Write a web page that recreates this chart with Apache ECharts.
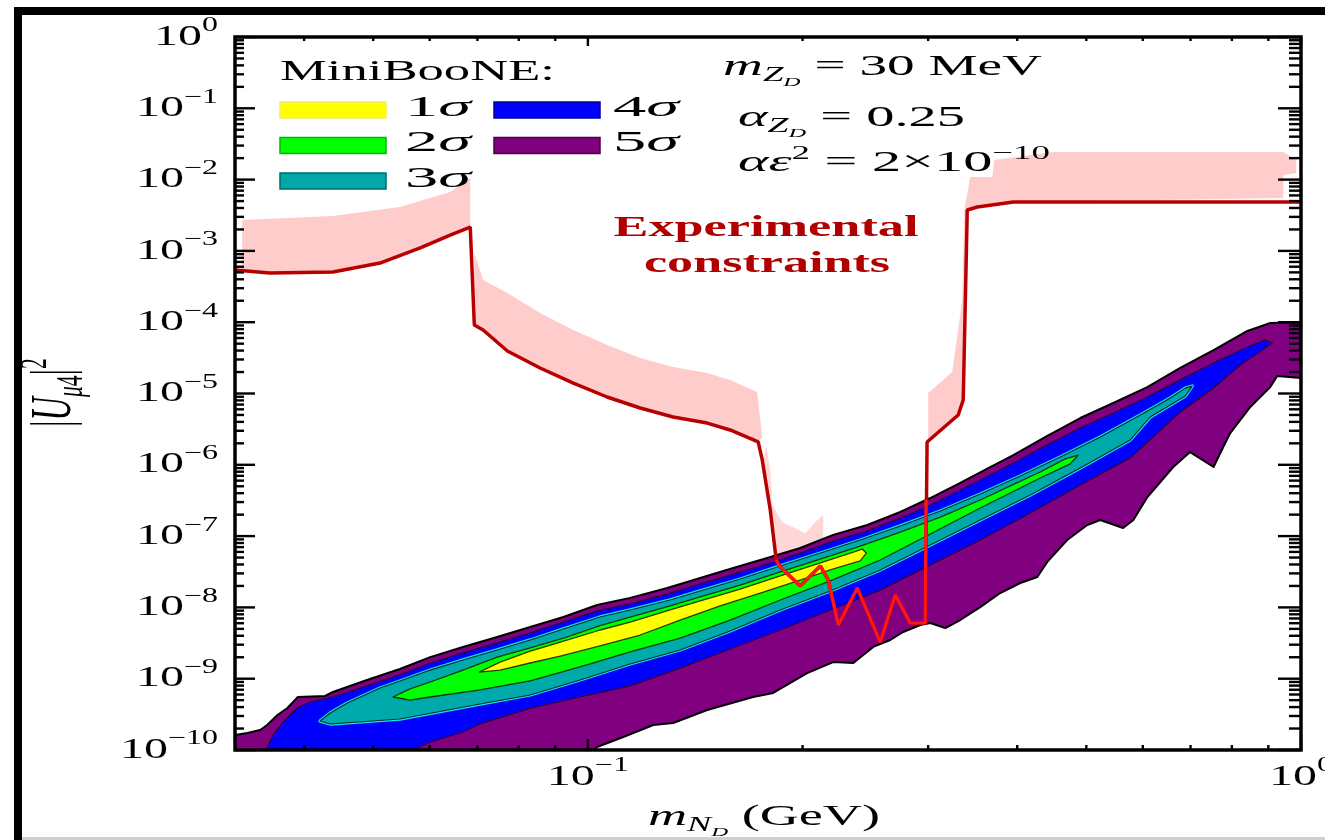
<!DOCTYPE html>
<html>
<head>
<meta charset="utf-8">
<script src="https://cdn.jsdelivr.net/npm/echarts@6/dist/echarts.min.js"></script>
<style>
html,body{margin:0;padding:0;background:#fff;}
#chart{width:1325px;height:840px;}
</style>
</head>
<body>
<div id="chart"></div>
<script>
// Axis ranges: heavy neutral mass (GeV) vs mixing |U_mu4|^2
const X_MIN = 0.032, X_MAX = 1;
const Y_MIN = 1e-10, Y_MAX = 1;

// Tick values
const xMajorTicks = [0.1, 1];
const xMinorTicks = [0.04, 0.05, 0.06, 0.07, 0.08, 0.09, 0.2, 0.3, 0.4, 0.5, 0.6, 0.7, 0.8, 0.9];
const yMajorTicks = [1e-10, 1e-9, 1e-8, 1e-7, 1e-6, 1e-5, 1e-4, 1e-3, 1e-2, 1e-1, 1];
const yMinorMultipliers = [2, 3, 4, 5, 6, 7, 8, 9];

// MiniBooNE preferred regions, [mass GeV, |U|^2] outlines
const region5sigma = [[0.0320,1.62e-10],[0.0333,1.73e-10],[0.0347,1.91e-10],[0.0355,2.24e-10],[0.0367,3.10e-10],[0.0379,3.88e-10],[0.0392,5.54e-10],[0.0428,5.72e-10],[0.0439,6.52e-10],[0.0490,9.59e-10],[0.0545,1.37e-9],[0.0601,2.01e-9],[0.0668,2.79e-9],[0.0746,3.85e-9],[0.0830,5.31e-9],[0.0924,7.33e-9],[0.1030,1.08e-8],[0.1146,1.36e-8],[0.1292,1.87e-8],[0.1437,2.58e-8],[0.1599,3.57e-8],[0.1784,4.93e-8],[0.1985,6.81e-8],[0.2208,1.04e-7],[0.2465,1.43e-7],[0.2742,2.18e-7],[0.3021,3.42e-7],[0.3328,5.56e-7],[0.3666,9.31e-7],[0.3950,1.37e-6],[0.4408,2.54e-6],[0.4903,4.53e-6],[0.5455,7.36e-6],[0.6087,1.23e-5],[0.6771,2.28e-5],[0.754,4.07e-5],[0.841,7.53e-5],[0.9056,9.75e-5],[1.0,1.0e-4],
  [1.0,1.65e-5],[0.926,1.76e-5],[0.9056,1.23e-5],[0.849,6.47e-6],[0.7958,2.79e-6],[0.778,1.78e-6],[0.754,9.31e-7],[0.699,1.51e-6],[0.662,9.31e-7],[0.609,3.53e-7],[0.582,1.68e-7],[0.563,1.30e-7],[0.523,1.68e-7],[0.5015,1.43e-7],[0.470,8.81e-8],[0.4408,4.34e-8],[0.4268,2.67e-8],[0.404,2.20e-8],[0.3786,1.59e-8],[0.3550,1.01e-8],[0.3328,6.65e-9],[0.3171,5.14e-9],[0.3021,6.04e-9],[0.2925,5.66e-9],[0.2768,4.52e-9],[0.2655,3.49e-9],[0.2513,2.79e-9],[0.2356,1.66e-9],[0.2208,1.71e-9],[0.2030,1.20e-9],[0.1819,6.31e-10],[0.1705,5.54e-10],[0.1470,3.64e-10],[0.1317,2.39e-10],[0.1235,2.24e-10],[0.1121,1.52e-10],[0.1030,1.10e-10],[0.0992,8e-11],[0.0320,8e-11]];

const region4sigma = [[0.0350,8e-11],[0.0362,1.62e-10],[0.0374,2.47e-10],[0.0391,3.88e-10],[0.0408,4.71e-10],[0.0439,5.54e-10],[0.0490,7.91e-10],[0.0545,1.13e-9],[0.0601,1.66e-9],[0.0668,2.30e-9],[0.0746,3.17e-9],[0.0830,4.38e-9],[0.0924,6.24e-9],[0.1030,8.91e-9],[0.1146,1.12e-8],[0.1292,1.54e-8],[0.1437,2.13e-8],[0.1599,2.94e-8],[0.1784,4.06e-8],[0.1985,5.79e-8],[0.2208,8.53e-8],[0.2465,1.18e-7],[0.2742,1.79e-7],[0.3021,2.73e-7],[0.3328,4.43e-7],[0.3666,7.19e-7],[0.3950,1.06e-6],[0.4408,1.90e-6],[0.4903,3.28e-6],[0.5455,5.33e-6],[0.6087,8.93e-6],[0.6771,1.55e-5],[0.754,2.68e-5],[0.841,4.49e-5],[0.891,5.62e-5],[0.9115,5.11e-5],
  [0.8826,4.07e-5],[0.822,2.51e-5],[0.754,1.19e-5],[0.6771,5.51e-6],[0.5762,1.25e-6],[0.4903,5.21e-7],[0.4172,2.11e-7],[0.3550,8.81e-8],[0.3021,3.94e-8],[0.2570,1.75e-8],[0.2187,9.20e-9],[0.1861,4.82e-9],[0.1583,2.61e-9],[0.1347,1.41e-9],[0.1146,7.91e-10],[0.0975,5.54e-10],[0.0830,3.88e-10],[0.0706,2.32e-10],[0.0668,1.79e-10],[0.0601,1.29e-10],[0.0540,8e-11]];

const region3sigma = [[0.0421,2.55e-10],[0.0435,3.30e-10],[0.0460,4.56e-10],[0.0511,7.41e-10],[0.0545,9.29e-10],[0.0601,1.32e-9],[0.0668,1.83e-9],[0.0746,2.53e-9],[0.0830,3.49e-9],[0.0924,4.98e-9],[0.1040,7.33e-9],[0.1146,9.20e-9],[0.1304,1.27e-8],[0.1437,1.70e-8],[0.1635,2.50e-8],[0.1861,3.81e-8],[0.2118,5.79e-8],[0.2410,8.81e-8],[0.2742,1.39e-7],[0.3120,2.25e-7],[0.3550,3.89e-7],[0.404,6.97e-7],[0.4596,1.29e-6],[0.523,2.45e-6],[0.5953,5.0e-6],[0.6557,8.65e-6],[0.6882,1.19e-5],[0.704,1.27e-5],
  [0.6882,9.23e-6],[0.6146,4.68e-6],[0.5762,2.23e-6],[0.4903,9.02e-7],[0.4172,3.77e-7],[0.3550,1.68e-7],[0.3021,7.50e-8],[0.2570,3.35e-8],[0.2187,1.70e-8],[0.1861,9.20e-9],[0.1583,4.67e-9],[0.1347,2.53e-9],[0.1146,1.61e-9],[0.0975,9.59e-10],[0.0830,5.92e-10],[0.0706,4.42e-10],[0.0545,2.72e-10],[0.0435,2.32e-10]];

const region2sigma = [[0.0533,5.54e-10],[0.0563,7.18e-10],[0.0601,8.99e-10],[0.0668,1.32e-9],[0.0746,2.01e-9],[0.0830,2.70e-9],[0.0924,3.72e-9],[0.1040,5.55e-9],[0.1146,7.33e-9],[0.1304,1.05e-8],[0.1437,1.40e-8],[0.1635,2.06e-8],[0.1861,3.14e-8],[0.2118,4.77e-8],[0.2410,7.26e-8],[0.2742,1.14e-7],[0.3120,1.85e-7],[0.3550,3.21e-7],[0.3911,5.05e-7],[0.4308,7.93e-7],[0.4671,1.21e-6],[0.4872,1.37e-6],
  [0.4747,1.03e-6],[0.4308,6.53e-7],[0.3550,2.48e-7],[0.3021,1.07e-7],[0.2570,4.62e-8],[0.2187,2.35e-8],[0.1861,1.27e-8],[0.1583,6.65e-9],[0.1347,3.72e-9],[0.1146,2.37e-9],[0.0975,1.46e-9],[0.0830,9.29e-10],[0.0706,6.95e-10],[0.0601,5.54e-10],[0.0563,5.02e-10]];

const region1sigma = [[0.0704,1.24e-9],[0.0753,1.71e-9],[0.0830,2.44e-9],[0.0915,3.27e-9],[0.1040,4.82e-9],[0.1146,6.24e-9],[0.1304,9.20e-9],[0.1437,1.23e-8],[0.1635,1.81e-8],[0.1861,2.76e-8],[0.2118,4.20e-8],[0.2333,5.79e-8],[0.2425,6.59e-8],[0.2457,5.79e-8],
  [0.2410,4.48e-8],[0.2187,3.35e-8],[0.1985,2.42e-8],[0.1745,1.59e-8],[0.1533,1.05e-8],[0.1347,6.65e-9],[0.1184,4.10e-9],[0.1040,2.88e-9],[0.0915,2.08e-9],[0.0830,1.66e-9],[0.0753,1.32e-9]];

// Experimental constraints: bound and its uncertainty bands
const constraintLine = [[0.0320,5.40e-4],[0.0358,4.90e-4],[0.0439,5.06e-4],[0.0511,6.76e-4],[0.0582,1.10e-3],[0.0641,1.67e-3],[0.0684,2.16e-3],[0.0693,9.14e-5],[0.0713,7.78e-5],[0.0771,3.95e-5],[0.0857,2.28e-5],[0.0954,1.40e-5],[0.1064,8.93e-6],[0.1184,6.26e-6],[0.1317,4.68e-6],[0.1470,3.85e-6],[0.1583,3.08e-6],[0.1733,2.09e-6],[0.1756,1.17e-6],[0.1802,2.32e-7],[0.1837,4.62e-8],[0.1861,3.69e-8],[0.1985,2.00e-8],[0.2118,3.81e-8],[0.2173,2.42e-8],[0.2245,5.67e-9],[0.2387,1.87e-8],[0.2570,3.27e-9],[0.2698,1.49e-8],[0.2831,6.04e-9],[0.2972,6.04e-9],[0.2990,2.09e-6],[0.3306,4.99e-6],[0.3360,8.11e-6],[0.3404,3.75e-3],[0.3516,4.13e-3],[0.3950,4.85e-3],[1.0,4.85e-3]];
const constraintLow = [[0.1837,4.62e-8],[0.1861,3.69e-8],[0.1985,2.00e-8],[0.2118,3.81e-8],[0.2173,2.42e-8],[0.2245,5.67e-9],[0.2387,1.87e-8],[0.2570,3.27e-9],[0.2698,1.49e-8],[0.2831,6.04e-9],[0.2972,6.04e-9],[0.2980,3.21e-7]];
const bandLeft = [[0.03275,2.71e-3],[0.0439,3.09e-3],[0.0545,4.13e-3],[0.0641,6.70e-3],[0.0684,1.05e-2],[0.0684,2.16e-3],[0.0641,1.67e-3],[0.0582,1.10e-3],[0.0511,6.76e-4],[0.0439,5.06e-4],[0.0358,4.90e-4],[0.03275,5.2e-4]];
const bandMiddle = [[0.0693,9.35e-4],[0.0713,3.91e-4],[0.0771,2.57e-4],[0.0857,1.35e-4],[0.0954,7.78e-5],[0.1064,4.79e-5],[0.1184,3.15e-5],[0.1317,2.35e-5],[0.1470,1.94e-5],[0.1583,1.55e-5],[0.1727,1.05e-5],[0.1756,2.45e-6],[0.1733,2.09e-6],[0.1583,3.08e-6],[0.1470,3.85e-6],[0.1317,4.68e-6],[0.1184,6.26e-6],[0.1064,8.93e-6],[0.0954,1.40e-5],[0.0857,2.28e-5],[0.0771,3.95e-5],[0.0713,7.78e-5],[0.0693,9.14e-5]];
const bandNotch = [[0.1778,1.90e-6],[0.1802,8.45e-7],[0.1813,2.73e-7],[0.1873,1.58e-7],[0.2018,1.10e-7],[0.2084,1.58e-7],[0.2138,1.98e-7],[0.2138,9.40e-8],[0.2018,6.81e-8],[0.1891,5.43e-8],[0.1837,4.62e-8],[0.1802,2.32e-7],[0.1762,1.17e-6]];
const bandRight = [[0.3001,2.09e-6],[0.3001,1.02e-5],[0.3243,2.00e-5],[0.3350,2.05e-4],[0.3372,3.75e-3],[0.3437,1.09e-2],[0.3690,1.09e-2],[0.3714,1.88e-2],[0.4494,2.44e-2],[0.9445,2.44e-2],[0.985,1.88e-2],[0.985,1.24e-2],[0.9445,1.16e-2],[0.9445,5.52e-3],[0.3950,4.85e-3],[0.3516,4.13e-3],[0.3404,3.75e-3],[0.3360,8.11e-6],[0.3306,4.99e-6]];

const legendItems = [
  {label: '1', color: '#ffff00', edge: '#f0f060', col: 0, row: 0},
  {label: '2', color: '#00ff00', edge: '#00b800', col: 0, row: 1},
  {label: '3', color: '#00a8a8', edge: '#006a6a', col: 0, row: 2},
  {label: '4', color: '#0000ff', edge: '#0000a0', col: 1, row: 0},
  {label: '5', color: '#800080', edge: '#480048', col: 1, row: 1}
];

const FONT = '"Liberation Serif", "Times New Roman", serif';
const TOP_Z = 100;
const measureCtx = document.createElement('canvas').getContext('2d');
function fontOf(r) { return (r.it ? 'italic ' : '') + (r.b ? 'bold ' : '') + r.s + 'px ' + FONT; }
function runWidth(r) { measureCtx.font = fontOf(r); return measureCtx.measureText(r.t).width; }

// Builds a horizontally stretched line of mixed-size text (sub/superscripts) as a graphic group.
function mathText(runs, o) {
  let w = 0;
  runs.forEach(r => { w += runWidth(r) + (r.dx || 0); });
  const sx = o.width ? o.width / w : (o.sx || 1);
  let x0 = o.x;
  if (o.align === 'right') x0 = o.x - w * sx;
  else if (o.align === 'center') x0 = o.x - w * sx / 2;
  const children = [];
  let cx = 0;
  runs.forEach(r => {
    cx += (r.dx || 0);
    children.push({
      type: 'text', x: cx, y: (r.dy || 0) - 0.34 * r.s, z: TOP_Z, zlevel: 0,
      style: {text: r.t, font: fontOf(r), fill: o.fill || '#000',
              align: 'left', verticalAlign: 'middle', textAlign: 'left', textVerticalAlign: 'middle'}
    });
    cx += runWidth(r);
  });
  return {type: 'group', x: x0, y: o.y, scaleX: sx, scaleY: o.sy || 1, rotation: o.rot || 0,
          silent: true, z: TOP_Z, children};
}

function regionSeries(name, pts, fill, stroke, lw, z) {
  return {
    type: 'custom', name, coordinateSystem: 'cartesian2d', clip: true, silent: true, z,
    data: pts, encode: {x: 0, y: 1},
    renderItem(params, api) {
      if (params.dataIndex !== 0) return null;
      return {type: 'polygon', shape: {points: pts.map(p => api.coord(p))},
              style: {fill, stroke, lineWidth: lw, lineJoin: 'round'}};
    }
  };
}

function tickSeries(items, axis) {
  return {
    type: 'custom', coordinateSystem: 'cartesian2d', clip: false, silent: true, z: 20,
    data: items, encode: {x: 0, y: 1},
    renderItem(params, api) {
      const cs = params.coordSys;
      const p = api.coord([api.value(0), api.value(1)]);
      const major = api.value(2) === 1;
      const st = {stroke: '#000', lineWidth: 2.4};
      if (axis === 'y') {
        const y = p[1], a = major ? 20 : 9, b = major ? 23 : 12;
        return {type: 'group', children: [
          {type: 'line', shape: {x1: cs.x, y1: y, x2: cs.x + a, y2: y}, style: st},
          {type: 'line', shape: {x1: cs.x + cs.width - b, y1: y, x2: cs.x + cs.width, y2: y}, style: st}
        ]};
      }
      const x = p[0], a = major ? 11 : 5, b = major ? 9 : 4;
      return {type: 'group', children: [
        {type: 'line', shape: {x1: x, y1: cs.y + cs.height, x2: x, y2: cs.y + cs.height - a}, style: st},
        {type: 'line', shape: {x1: x, y1: cs.y, x2: x, y2: cs.y + b}, style: st}
      ]};
    }
  };
}

const yTickItems = [];
yMajorTicks.forEach(v => yTickItems.push([X_MIN, v, 1]));
for (let e = -10; e < 0; e++) yMinorMultipliers.forEach(m => yTickItems.push([X_MIN, m * Math.pow(10, e), 0]));
const xTickItems = xMajorTicks.map(v => [v, Y_MIN, 1]).concat(xMinorTicks.map(v => [v, Y_MIN, 0]));

const chart = echarts.init(document.getElementById('chart'), null, {renderer: 'canvas'});
const logAxis = (min, max) => ({
  type: 'log', logBase: 10, min, max,
  axisLabel: {show: false}, axisTick: {show: false}, axisLine: {show: false},
  splitLine: {show: false}, minorTick: {show: false}
});

chart.setOption({
  animation: false,
  backgroundColor: '#ffffff',
  grid: {left: 235, right: 24, top: 37, bottom: 90, containLabel: false, outerBoundsMode: 'none', show: false},
  xAxis: logAxis(X_MIN, X_MAX),
  yAxis: logAxis(Y_MIN, Y_MAX),
  series: [
    regionSeries('band-left', bandLeft, '#ffcccc', null, 0, 3),
    regionSeries('band-middle', bandMiddle, '#ffcccc', null, 0, 3),
    regionSeries('band-notch', bandNotch, '#ffd6d6', null, 0, 3),
    regionSeries('band-right', bandRight, '#ffcccc', null, 0, 3),
    regionSeries('5σ', region5sigma, '#800080', '#000000', 2, 4),
    regionSeries('4σ', region4sigma, '#0000ff', '#300040', 1.3, 5),
    regionSeries('3σ-rim', region3sigma, '#00aaaa', '#10e8e8', 3.4, 6),
    regionSeries('3σ', region3sigma, '#00aaaa', '#0a2a2a', 1.1, 6),
    regionSeries('2σ', region2sigma, '#00ff00', '#0a3a0a', 1.3, 7),
    regionSeries('1σ', region1sigma, '#ffff00', '#2a3a00', 1.3, 8),
    {type: 'line', name: 'bound', data: constraintLine, showSymbol: false, symbol: 'none', silent: true,
     lineStyle: {color: '#b80000', width: 3.5}, z: 10},
    {type: 'line', name: 'bound-low', data: constraintLow, showSymbol: false, symbol: 'none', silent: true,
     lineStyle: {color: '#ff1515', width: 3.2}, z: 11},
    tickSeries(yTickItems, 'y'),
    tickSeries(xTickItems, 'x'),
    {type: 'custom', coordinateSystem: 'cartesian2d', clip: false, silent: true, z: 21,
     data: [[X_MIN, Y_MIN]], encode: {x: 0, y: 1},
     renderItem(params) {
       const cs = params.coordSys;
       return {type: 'rect', shape: {x: cs.x, y: cs.y, width: cs.width, height: cs.height},
               style: {fill: 'none', stroke: '#000', lineWidth: 3.5}};
     }}
  ]
});

// Text, legend and frame drawn on top of the plot
const graphics = [];
graphics.push({type: 'rect', z: TOP_Z, silent: true, shape: {x: 18, y: 11, width: 1400, height: 900},
               style: {fill: 'none', stroke: '#000', lineWidth: 8}});
graphics.push({type: 'line', z: TOP_Z, silent: true, shape: {x1: 22, y1: 838.5, x2: 1325, y2: 838.5},
               style: {stroke: '#cfcfcf', lineWidth: 3}});

yMajorTicks.forEach(v => {
  const k = Math.round(Math.log10(v));
  const py = chart.convertToPixel({yAxisIndex: 0}, v);
  graphics.push(mathText([{t: '10', s: 30}, {t: k === 0 ? '0' : '\u2212' + (-k), s: 20, dy: -14}],
    {x: 218, y: py + 10, sx: 1.6, align: 'right'}));
});
xMajorTicks.forEach(v => {
  const k = Math.round(Math.log10(v));
  const px = chart.convertToPixel({xAxisIndex: 0}, v);
  graphics.push(mathText([{t: '10', s: 30}, {t: k === 0 ? '0' : '\u2212' + (-k), s: 20, dy: -14}],
    {x: px, y: 787, sx: 1.6, align: 'center'}));
});

// axis titles
graphics.push(mathText([{t: 'm', s: 30, it: 1}, {t: 'N', s: 20, it: 1, dy: 6}, {t: 'D', s: 13, it: 1, dy: 10},
  {t: ' (GeV)', s: 30}], {x: 648, y: 827, width: 232}));
graphics.push(mathText([{t: '|', s: 30}, {t: 'U', s: 30, it: 1}, {t: '\u03bc', s: 20, it: 1, dy: 6},
  {t: '4', s: 20, dy: 6}, {t: '|', s: 30}, {t: '2', s: 20, dy: -13}],
  {x: 74, y: 427, sx: 1.08, sy: 1.9, rot: Math.PI / 2}));

// legend
graphics.push(mathText([{t: 'MiniBooNE:', s: 30}], {x: 280, y: 82, width: 275}));
legendItems.forEach(it => {
  const x = it.col === 0 ? 280 : 494;
  const y = 102 + it.row * 35.5;
  graphics.push({type: 'rect', z: TOP_Z, silent: true, shape: {x, y, width: 106, height: 16},
                 style: {fill: it.color, stroke: it.edge, lineWidth: 1.5}});
  graphics.push(mathText([{t: it.label, s: 30}, {t: '\u03c3', s: 30, it: 1}],
    {x: it.col === 0 ? 405 : 613, y: y + 16, width: 66}));
});

// model parameters
graphics.push(mathText([{t: 'm', s: 30, it: 1}, {t: 'Z', s: 20, it: 1, dy: 6}, {t: 'D', s: 13, it: 1, dy: 10},
  {t: ' = 30 MeV', s: 30}], {x: 723, y: 77, width: 319}));
graphics.push(mathText([{t: '\u03b1', s: 30, it: 1}, {t: 'Z', s: 20, it: 1, dy: 6}, {t: 'D', s: 13, it: 1, dy: 10},
  {t: ' = 0.25', s: 30}], {x: 738, y: 128, width: 227}));
graphics.push(mathText([{t: '\u03b1\u03b5', s: 30, it: 1}, {t: '2', s: 19, dy: -13},
  {t: ' = 2\u00d710', s: 30}, {t: '\u221210', s: 19, dy: -13}], {x: 738, y: 173, width: 312}));

// constraint annotation
graphics.push(mathText([{t: 'Experimental', s: 30, b: 1}], {x: 766, y: 238, width: 305, align: 'center', fill: '#b00000'}));
graphics.push(mathText([{t: 'constraints', s: 30, b: 1}], {x: 767, y: 274, width: 246, align: 'center', fill: '#b00000'}));

chart.setOption({graphic: {elements: graphics}});
</script>
</body>
</html>
